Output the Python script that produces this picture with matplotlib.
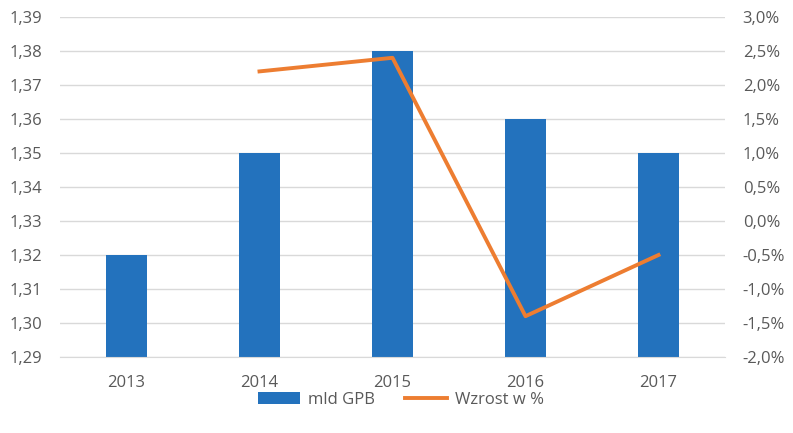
import matplotlib
matplotlib.use("Agg")
import matplotlib.pyplot as plt
from matplotlib.ticker import FuncFormatter, MultipleLocator

years = ["2013", "2014", "2015", "2016", "2017"]
mld_gpb = [1.32, 1.35, 1.38, 1.36, 1.35]
growth_years = ["2014", "2015", "2016", "2017"]
growth_pct = [2.2, 2.4, -1.4, -0.5]

plt.rcParams['font.family'] = ['Open Sans', 'DejaVu Sans']
txt = '#595959'
fig = plt.figure(figsize=(7.93, 4.33), dpi=100)
ax = fig.add_axes([60/793, 1-357/433, (725-60)/793, (357-17)/433])
ax2 = ax.twinx()

x = list(range(len(years)))
ax.bar(x, mld_gpb, width=0.31, color='#2372BD', zorder=2, label='mld GPB')
ax.set_ylim(1.29, 1.39)
ax.yaxis.set_major_locator(MultipleLocator(0.01))
ax.yaxis.set_major_formatter(FuncFormatter(lambda v, p: f"{v:.2f}".replace('.', ',')))
ax.set_xlim(-0.5, len(years)-0.5)
ax.set_xticks(x)
ax.set_xticklabels(years)
ax.grid(axis='y', color='#D9D9D9', linewidth=1, zorder=0)
ax.set_axisbelow(True)

gx = [years.index(y) for y in growth_years]
ax2.plot(gx, growth_pct, color='#ED7D31', linewidth=2.8, label='Wzrost w %', zorder=3)
ax2.set_ylim(-2.0, 3.0)
ax2.yaxis.set_major_locator(MultipleLocator(0.5))
ax2.yaxis.set_major_formatter(FuncFormatter(lambda v, p: f"{v:.1f}%".replace('.', ',')))

for a in (ax, ax2):
    for s in a.spines.values():
        s.set_visible(False)
    a.tick_params(length=0, labelsize=12, colors=txt)
ax.spines['bottom'].set_visible(True)
ax.spines['bottom'].set_color('#D9D9D9')
ax.tick_params(axis='y', pad=13)
ax.tick_params(axis='x', pad=13)
ax2.tick_params(axis='y', pad=12.7)

h1, l1 = ax.get_legend_handles_labels()
h2, l2 = ax2.get_legend_handles_labels()
fig.legend(h1 + h2, l1 + l2, loc='center', bbox_to_anchor=(401/793, 1-400/433),
           ncol=2, frameon=False, fontsize=12, labelcolor=txt,
           handlelength=2.5, handleheight=0.75, handletextpad=0.5, columnspacing=1.8)

fig.savefig('out.png', dpi=100)
